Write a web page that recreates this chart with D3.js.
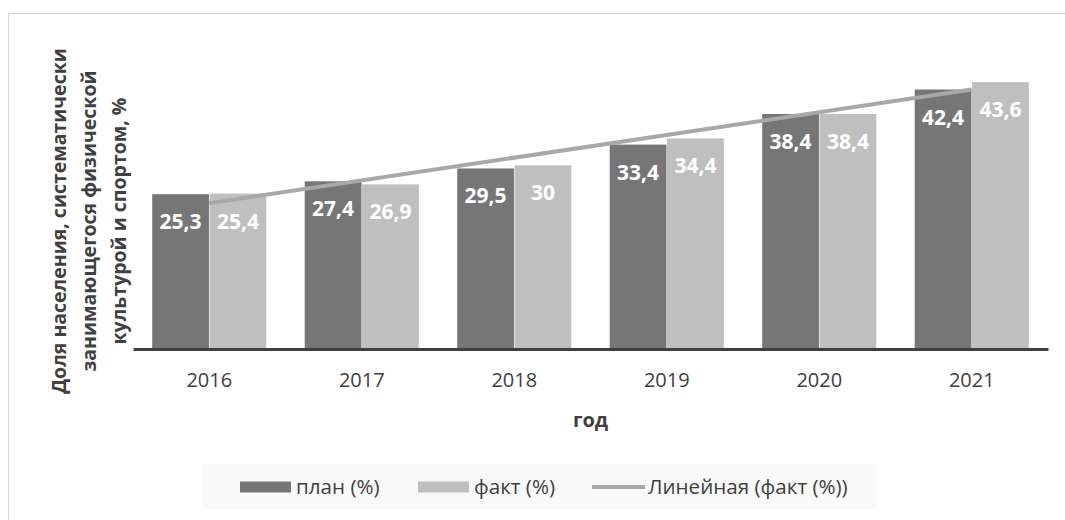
<!DOCTYPE html>
<html>
<head>
<meta charset="utf-8">
<script src="https://cdn.jsdelivr.net/npm/d3@7"></script>
<style>
  body { margin: 0; background: #fff; }
  svg { display: block; font-family: "Open Sans", sans-serif; }
</style>
</head>
<body>
<div id="graph"></div>
<script>
var years = ["2016", "2017", "2018", "2019", "2020", "2021"];
var plan = [25.3, 27.4, 29.5, 33.4, 38.4, 42.4];
var fact = [25.4, 26.9, 30, 34.4, 38.4, 43.6];
var seriesNames = ["план (%)", "факт (%)"];
var trendName = "Линейная (факт (%))";
var yTitle = ["Доля населения, систематически", "занимающегося физической", "культурой и спортом, %"];
var xTitle = "год";

var width = 1065, height = 520;
var margin = { left: 133, right: 17, top: 43, bottom: 171 };
var colors = ["#767676", "#bfbfbf"];
var trendColor = "#a8a8a8";

var svg = d3.select("#graph").append("svg")
  .attr("width", width).attr("height", height);

// chart frame
svg.append("rect")
  .attr("x", 8.5).attr("y", 13.5)
  .attr("width", width).attr("height", height)
  .attr("fill", "#fff").attr("stroke", "#d0d0d0");

var x = d3.scaleBand().domain(years).range([margin.left, width - margin.right]);
var bw = x.bandwidth();
var xs = d3.scaleBand().domain([0, 1]).range([bw * 0.126, bw * 0.874]).paddingInner(0.01);
var y = d3.scaleLinear().domain([0, 50]).range([height - margin.bottom, margin.top]);

var rows = years.map(function (yr, i) { return { year: yr, vals: [plan[i], fact[i]] }; });

var g = svg.selectAll("g.cat").data(rows).join("g")
  .attr("class", "cat")
  .attr("transform", function (d) { return "translate(" + x(d.year) + ",0)"; });

g.selectAll("rect").data(function (d) { return d.vals; }).join("rect")
  .attr("x", function (d, i) { return xs(i); })
  .attr("width", xs.bandwidth())
  .attr("y", function (d) { return y(d); })
  .attr("height", function (d) { return y(0) - y(d); })
  .attr("fill", function (d, i) { return colors[i]; });

g.selectAll("text").data(function (d) { return d.vals; }).join("text")
  .attr("x", function (d, i) { return xs(i) + xs.bandwidth() / 2; })
  .attr("y", function (d) { return y(d) + 35; })
  .attr("text-anchor", "middle")
  .attr("fill", "#fff")
  .attr("font-weight", "bold")
  .attr("font-size", 21)
  .text(function (d) { return String(d).replace(".", ","); });

// linear trend of fact
var n = fact.length;
var mx = d3.mean(fact, function (d, i) { return i + 1; });
var my = d3.mean(fact);
var slope = d3.sum(fact, function (d, i) { return (i + 1 - mx) * (d - my); }) /
  d3.sum(fact, function (d, i) { return (i + 1 - mx) * (i + 1 - mx); });
var trend = [1, n].map(function (k) { return { year: years[k - 1], v: my + slope * (k - mx) }; });

svg.append("path")
  .attr("d", d3.line()
    .x(function (d) { return x(d.year) + bw / 2; })
    .y(function (d) { return y(d.v); })(trend))
  .attr("stroke", trendColor).attr("stroke-width", 4).attr("fill", "none");

// x axis
var xAxis = svg.append("g")
  .attr("transform", "translate(0," + y(0) + ")")
  .call(d3.axisBottom(x).tickSize(0).tickPadding(24));
xAxis.select(".domain").attr("stroke", "#404040").attr("stroke-width", 3);
xAxis.selectAll("text").attr("font-size", 20).attr("fill", "#404040")
  .attr("font-family", "Open Sans, sans-serif");

svg.append("text")
  .attr("x", (margin.left + width - margin.right) / 2)
  .attr("y", 427)
  .attr("text-anchor", "middle")
  .attr("font-size", 20).attr("font-weight", "bold").attr("fill", "#404040")
  .text(xTitle);

// y title
svg.append("text")
  .attr("transform", "translate(0,221) rotate(-90)")
  .attr("text-anchor", "middle")
  .attr("font-size", 19.5).attr("font-weight", "bold").attr("fill", "#404040")
  .selectAll("tspan").data(yTitle).join("tspan")
  .attr("x", 0)
  .attr("y", function (d, i) { return 66 + i * 30; })
  .text(function (d) { return d; });

// legend
var lg = svg.append("g");
lg.append("rect")
  .attr("x", 202).attr("y", 464).attr("width", 674).attr("height", 45)
  .attr("fill", "#f9f9f9");

var items = [
  { name: seriesNames[0], type: "bar", color: colors[0], x: 240 },
  { name: seriesNames[1], type: "bar", color: colors[1], x: 418 },
  { name: trendName, type: "line", color: trendColor, x: 592 }
];

var li = lg.selectAll("g.item").data(items).join("g")
  .attr("class", "item")
  .attr("transform", function (d) { return "translate(" + d.x + ",487)"; });

li.filter(function (d) { return d.type === "bar"; }).append("rect")
  .attr("x", 0).attr("y", -5.5).attr("width", 51).attr("height", 11)
  .attr("fill", function (d) { return d.color; });

li.filter(function (d) { return d.type === "line"; }).append("line")
  .attr("x1", 0).attr("x2", 53).attr("y1", 0).attr("y2", 0)
  .attr("stroke", function (d) { return d.color; }).attr("stroke-width", 4);

li.append("text")
  .attr("x", 56)
  .attr("y", 7)
  .attr("font-size", 20.6).attr("fill", "#404040")
  .text(function (d) { return d.name; });
</script>
</body>
</html>
